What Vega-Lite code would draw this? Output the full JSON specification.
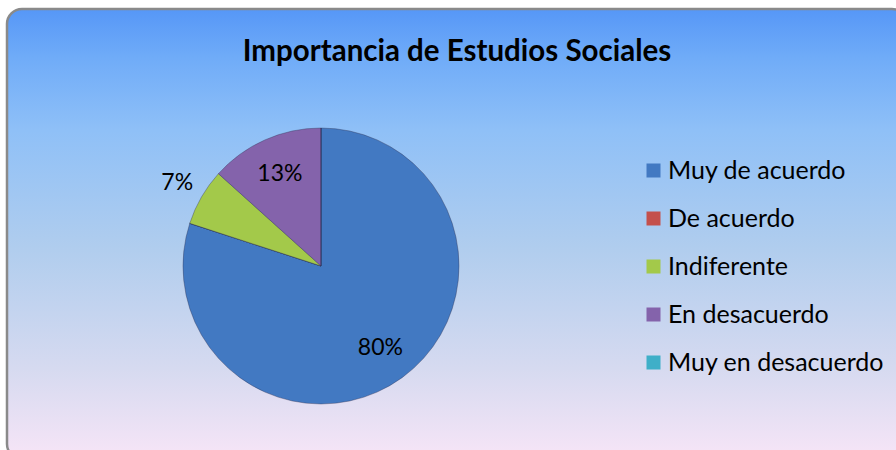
{
  "$schema": "https://vega.github.io/schema/vega-lite/v6.json",
  "width": 900,
  "height": 450,
  "autosize": "none",
  "padding": {"left": 7, "top": 9, "right": 0, "bottom": 0},
  "background": "white",
  "config": {
    "view": {
      "fill": {
        "gradient": "linear",
        "x1": 0, "y1": 0, "x2": 0, "y2": 1,
        "stops": [
          {"offset": 0, "color": "#5697f7"},
          {"offset": 0.11, "color": "#70acf8"},
          {"offset": 0.27, "color": "#8fc0f7"},
          {"offset": 0.53, "color": "#b0cdee"},
          {"offset": 0.8, "color": "#d6daf0"},
          {"offset": 1, "color": "#f7e5f7"}
        ]
      },
      "stroke": "#8a8a8a",
      "strokeWidth": 2.5,
      "cornerRadius": 15
    }
  },
  "title": {
    "text": "Importancia de Estudios Sociales",
    "font": "Lato",
    "fontSize": 29.5,
    "fontWeight": "bold",
    "color": "black",
    "anchor": "middle",
    "offset": -58
  },
  "data": {
    "values": [
      {"categoria": "Muy de acuerdo", "valor": 12, "orden": 1, "etiqueta": "80%"},
      {"categoria": "De acuerdo", "valor": 0, "orden": 2, "etiqueta": ""},
      {"categoria": "Indiferente", "valor": 1, "orden": 3, "etiqueta": "7%"},
      {"categoria": "En desacuerdo", "valor": 2, "orden": 4, "etiqueta": "13%"},
      {"categoria": "Muy en desacuerdo", "valor": 0, "orden": 5, "etiqueta": ""}
    ]
  },
  "layer": [
    {
      "mark": {"type": "arc", "outerRadius": 138, "stroke": "#2a2a4a", "strokeWidth": 0.8, "strokeOpacity": 0.45},
      "encoding": {
        "theta": {"field": "valor", "type": "quantitative", "stack": true},
        "order": {"field": "orden", "type": "quantitative"},
        "color": {
          "field": "categoria",
          "type": "nominal",
          "sort": null,
          "scale": {
            "domain": ["Muy de acuerdo", "De acuerdo", "Indiferente", "En desacuerdo", "Muy en desacuerdo"],
            "range": ["#4279c2", "#c4504c", "#a3c94a", "#8463ab", "#3fafc8"]
          },
          "legend": {
            "orient": "none",
            "legendX": 634,
            "legendY": 149,
            "title": null,
            "symbolType": "square",
            "symbolSize": 196,
            "symbolStrokeWidth": 0,
            "labelFont": "Lato",
            "labelFontSize": 25,
            "labelColor": "black",
            "labelOffset": 2,
            "labelLimit": 400,
            "rowPadding": 22
          }
        },
        "x": {"value": 314},
        "y": {"value": 257}
      }
    },
    {
      "mark": {"type": "text", "font": "Lato", "fontSize": 23, "color": "black"},
      "encoding": {
        "theta": {"field": "valor", "type": "quantitative", "stack": true},
        "order": {"field": "orden", "type": "quantitative"},
        "radius": {"value": 101},
        "text": {"condition": {"test": "datum.valor >= 2", "field": "etiqueta"}, "value": ""},
        "x": {"value": 314},
        "y": {"value": 257}
      }
    },
    {
      "mark": {"type": "text", "font": "Lato", "fontSize": 23, "color": "black"},
      "encoding": {
        "theta": {"field": "valor", "type": "quantitative", "stack": true},
        "order": {"field": "orden", "type": "quantitative"},
        "radius": {"value": 166},
        "text": {"condition": {"test": "datum.valor == 1", "field": "etiqueta"}, "value": ""},
        "x": {"value": 314},
        "y": {"value": 257}
      }
    }
  ]
}
